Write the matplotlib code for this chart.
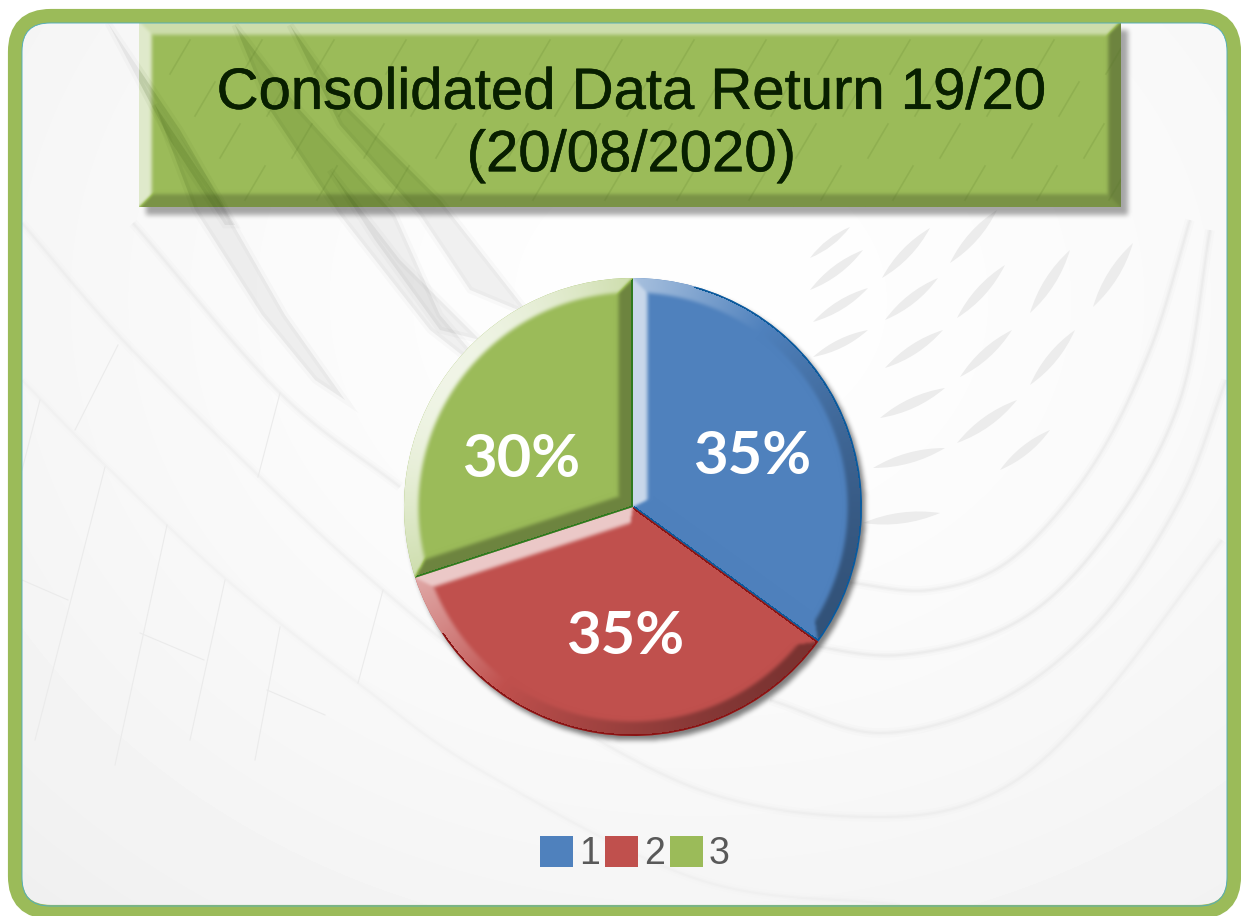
import numpy as np
import matplotlib
matplotlib.use('Agg')
import matplotlib.pyplot as plt
import matplotlib.patheffects as pe
from matplotlib.patches import FancyBboxPatch, PathPatch, Rectangle
from matplotlib.path import Path

W, H = 1241, 916

# chart values
slice_values = [35, 35, 30]
legend_labels = ['1', '2', '3']
slice_colors = ['#4f81bd', '#c0504d', '#9bbb59']
edge_colors = ['#0b5a9c', '#8a1414', '#2f7a1e']
title_text = 'Consolidated Data Return 19/20\n(20/08/2020)'

def py(y):
    return H - y

def blur(a, n):
    k = np.ones(n) / n
    for _ in range(3):
        a = np.apply_along_axis(lambda r: np.convolve(r, k, mode='same'), 0, a)
        a = np.apply_along_axis(lambda r: np.convolve(r, k, mode='same'), 1, a)
    return a

def smooth(pts, n=30):
    # catmull-rom through the way points
    p = np.array(pts, float)
    p = np.vstack([2 * p[0] - p[1], p, 2 * p[-1] - p[-2]])
    out = []
    for i in range(1, len(p) - 2):
        t = np.linspace(0, 1, n)[:, None]
        out.append(0.5 * (2 * p[i] + (p[i + 1] - p[i - 1]) * t
                          + (2 * p[i - 1] - 5 * p[i] + 4 * p[i + 1] - p[i + 2]) * t ** 2
                          + (3 * p[i] - p[i - 1] - 3 * p[i + 1] + p[i + 2]) * t ** 3))
    return np.vstack(out)

def shade(color, edge, dists, normals, w, edge_w=1.7):
    # bevel: every pixel takes the light of its nearest edge, softened after
    rgb = np.array(matplotlib.colors.to_rgb(color))
    ec = np.array(matplotlib.colors.to_rgb(edge))
    d = np.stack(dists)
    idx = d.argmin(axis=0)
    dmin = d.min(axis=0)
    nx = np.choose(idx, [n[0] for n in normals])
    ny = np.choose(idx, [n[1] for n in normals])
    dot = nx * (-0.81) + ny * 0.59
    t = np.clip((w - dmin) / (0.3 * w), 0, 1)
    ramp = t * t * (3 - 2 * t)
    s = blur(dot * ramp, 3)
    img = np.ones(d.shape[1:] + (4,))
    for c in range(3):
        light = rgb[c] + (1 - rgb[c]) * 0.85 * np.clip(s, 0, 1)
        dark = rgb[c] * (1 - 0.36 * np.clip(-s, 0, 1))
        img[..., c] = np.where(s > 0, light, dark)
        img[..., c] = np.where((dmin < edge_w) & (dot < 0.35), ec[c], img[..., c])
    return img

fig = plt.figure(figsize=(W / 100, H / 100), dpi=100, facecolor='white')
ax = fig.add_axes([0, 0, 1, 1])

# background picture
plate = FancyBboxPatch((15, py(912)), 1219, 896, boxstyle='round,pad=0,rounding_size=36',
                       facecolor='none', edgecolor='none', zorder=0)
ax.add_patch(plate)
yy, xx = np.mgrid[0:H, 0:W]
dist = np.hypot((xx - 700) / 1100, (yy - 300) / 900)
bg = 254 - 17 * np.clip(dist, 0, 1) ** 1.6
bg_im = ax.imshow(bg, cmap='gray', vmin=0, vmax=255, extent=(0, W, 0, H), origin='upper',
                  aspect='auto', zorder=0.5)
bg_im.set_clip_path(plate)

streaks = [
    ([(22, 223), (120, 337), (260, 477), (383, 590), (500, 680), (700, 790), (880, 817), (1000, 790), (1100, 700), (1222, 540)], 0.03),
    ([(22, 380), (107, 467), (227, 580), (358, 683), (480, 770), (700, 880), (900, 905)], 0.022),
    ([(133, 223), (280, 393), (400, 487)], 0.04),
    ([(770, 700), (880, 733), (1000, 700), (1100, 620), (1180, 500), (1226, 380)], 0.04),
    ([(780, 640), (900, 655), (1020, 620), (1110, 530), (1180, 400), (1210, 230)], 0.05),
    ([(845, 582), (930, 590), (1010, 560), (1090, 470), (1150, 350), (1190, 220)], 0.05),
]
for pts, a in streaks:
    c = smooth(pts)
    for lw, f in [(7, 0.25), (3.5, 0.4), (1.5, 0.5)]:
        ax.plot(c[:, 0], py(c[:, 1]), color='black', lw=lw, alpha=a * f, zorder=1,
                solid_capstyle='butt')

# tapered bands of the upper left, they also show through the title box
bands = [
    [(155, 105), (225, 210), (285, 315), (345, 400), (315, 380), (262, 315), (195, 210)],
    [(235, 25), (300, 110), (395, 215), (440, 315), (500, 385), (430, 330), (340, 215), (270, 110)],
    [(290, 25), (350, 110), (440, 200), (530, 315), (470, 290), (420, 215), (340, 125)],
    [(330, 170), (400, 260), (480, 340), (440, 330), (375, 240)],
    [(108, 23), (180, 130), (235, 225), (225, 225), (170, 140)],
]
for b in bands:
    b = np.array(b, float)
    ax.fill(b[:, 0], py(b[:, 1]), color='black', alpha=0.018, lw=5, zorder=1)
    ax.fill(b[:, 0], py(b[:, 1]), color='black', alpha=0.03, lw=0, zorder=1)

# faint panel lines, lower left
panel_lines = [((118, 345), (75, 430)), ((280, 393), (258, 477)), ((40, 400), (22, 470)),
               ((105, 467), (35, 740)), ((167, 525), (115, 765)), ((225, 580), (190, 740)),
               ((280, 627), (255, 760)), ((383, 590), (358, 683)), ((22, 580), (68, 600)),
               ((140, 633), (204, 660)), ((267, 690), (325, 715))]
for a, b in panel_lines:
    ax.plot([a[0], b[0]], [py(a[1]), py(b[1])], color='#ebebeb', lw=0.8, zorder=1)

# lens shapes over the upper right
leaf_tips = [(810, 258, 850, 227), (810, 290, 863, 250), (882, 278, 930, 228), (813, 322, 868, 288),
             (885, 320, 938, 278), (950, 263, 997, 210), (813, 357, 868, 330), (885, 368, 943, 330),
             (957, 318, 1005, 265), (880, 418, 945, 388), (960, 377, 1012, 330), (1030, 313, 1070, 250),
             (873, 468, 945, 448), (957, 443, 1017, 400), (1093, 307, 1133, 243), (863, 523, 940, 513),
             (1030, 385, 1075, 330), (1000, 470, 1050, 430)]
for x0, y0, x1, y1 in leaf_tips:
    mx, my = (x0 + x1) / 2, (y0 + y1) / 2
    nx, ny = (y1 - y0) * 0.14, (x0 - x1) * 0.14
    verts = [(x0, py(y0)), (mx + nx, py(my + ny)), (x1, py(y1)),
             (mx - nx, py(my - ny)), (x0, py(y0))]
    codes = [Path.MOVETO, Path.CURVE3, Path.CURVE3, Path.CURVE3, Path.CURVE3]
    ax.add_patch(PathPatch(Path(verts, codes), facecolor='#ececec', edgecolor='none', zorder=1.2))

# title box
bx0, bx1, by0, by1 = 139, 1121, 22, 207
mask = np.zeros((H, W))
mask[by0 + 8:by1 + 8, bx0 + 7:bx1 + 7] = 1
mask = blur(mask[:300, 80:1200], 5)
sh = np.zeros(mask.shape + (4,))
sh[..., 3] = mask * 0.34
ax.imshow(sh, extent=(80, 1200, py(300), py(0)), origin='upper', aspect='auto', zorder=2)

pad = 12
gy, gx = np.mgrid[by0 - pad:by1 + pad, bx0 - pad:bx1 + pad] + 0.5
box_img = shade(slice_colors[2], slice_colors[2],
                [gx - bx0, bx1 - gx, gy - by0, by1 - gy],
                [(-1, 0), (1, 0), (0, 1), (0, -1)], 15, edge_w=0)
box_clip = Rectangle((bx0, py(by1)), bx1 - bx0, by1 - by0, transform=ax.transData)
box_im = ax.imshow(box_img, extent=(bx0 - pad, bx1 + pad, py(by1 + pad), py(by0 - pad)), origin='upper',
                   aspect='auto', zorder=2.1)
box_im.set_clip_path(box_clip)
for b in bands:
    b = np.array(b, float)
    poly, = ax.fill(b[:, 0], py(b[:, 1]), color='#3c5a14', alpha=0.1, lw=0, zorder=2.2)
    poly.set_clip_path(box_clip)
    poly, = ax.fill(b[:, 0], py(b[:, 1]), color='#3c5a14', alpha=0.05, lw=5, zorder=2.2)
    poly.set_clip_path(box_clip)
# the pattern behind shows through the box
for row, y in enumerate(range(40, 210, 42)):
    for x in range(170 + row * 25, 1120, 72):
        ln, = ax.plot([x, x + 20], [py(y + 34), py(y)], color='#4f7020', lw=1.2, alpha=0.15, zorder=2.2)
        ln.set_clip_path(box_clip)

ax.text(631, py(125), title_text, ha='center', va='center', fontsize=41.8, color='#081f00',
        family='Liberation Sans', linespacing=1.2, zorder=3,
        path_effects=[pe.withStroke(linewidth=0.4, foreground='#081f00')])

# pie
cx, cy, r = 633, py(507), 229
mask = np.zeros((H, W))
py_, px_ = np.mgrid[0:H, 0:W]
mask[np.hypot(px_ - (cx + 3), (H - py_) - (cy - 4)) < r] = 1
mask = blur(mask[250:770, 370:900], 5)
sh = np.zeros(mask.shape + (4,))
sh[..., 3] = mask * 0.5
ax.imshow(sh, extent=(370, 900, py(770), py(250)), origin='upper', aspect='auto', zorder=3.5)

wedges, texts, autotexts = ax.pie(slice_values, colors=slice_colors, startangle=90, counterclock=False,
                                  center=(cx, cy), radius=r, autopct=lambda p: f'{p:.0f}%',
                                  pctdistance=0.57, frame=False,
                                  textprops={'family': 'Lato', 'fontweight': 'bold', 'fontsize': 43,
                                             'color': 'white'})

ext = (cx - r - pad, cx + r + pad, cy - r - pad, cy + r + pad)
ty, tx = np.mgrid[ext[3] - 0.5:ext[2] - 0.5:-1, ext[0] + 0.5:ext[1] + 0.5:1]
for wdg, col, ec in zip(wedges, slice_colors, edge_colors):
    wdg.set_zorder(4)
    dx, dy = tx - cx, ty - cy
    rho = np.hypot(dx, dy)
    a1, a2 = np.radians(wdg.theta1), np.radians(wdg.theta2)
    n1 = (np.cos(a1 - np.pi / 2), np.sin(a1 - np.pi / 2))
    n2 = (np.cos(a2 + np.pi / 2), np.sin(a2 + np.pi / 2))
    d1 = -(dx * n1[0] + dy * n1[1])
    d2 = -(dx * n2[0] + dy * n2[1])
    rx, ry = dx / np.maximum(rho, 1), dy / np.maximum(rho, 1)
    img = shade(col, ec, [r - rho, d1, d2],
                [(rx, ry), (np.full_like(rx, n1[0]), np.full_like(rx, n1[1])),
                 (np.full_like(rx, n2[0]), np.full_like(rx, n2[1]))], 17)
    im = ax.imshow(img, extent=ext, origin='upper', aspect='auto', zorder=4.1)
    im.set_clip_path(wdg)

label_px = [(752, 457), (625, 637), (521, 460)]
for t, (lx, ly) in zip(autotexts, label_px):
    t.set_position((lx, py(ly)))
    t.set_ha('center')
    t.set_va('center')
    t.set_zorder(5)

leg = ax.legend(wedges, legend_labels, ncols=3, frameon=False, loc='center',
                bbox_to_anchor=(635, py(854)), bbox_transform=ax.transData,
                prop={'family': 'Liberation Sans', 'size': 27}, labelcolor='#595959',
                handlelength=0.88, handleheight=0.9, handletextpad=0.15, columnspacing=0.15,
                borderpad=0, borderaxespad=0)
leg.set_zorder(5)

# frame
frame = FancyBboxPatch((15, py(912)), 1219, 896, boxstyle='round,pad=0,rounding_size=36',
                       facecolor='none', edgecolor='#9bbb59', lw=10.2, zorder=6)
ax.add_patch(frame)
inner = FancyBboxPatch((22, py(906)), 1205, 883, boxstyle='round,pad=0,rounding_size=28',
                       facecolor='none', edgecolor='#4bacc6', lw=0.6, zorder=6)
ax.add_patch(inner)

ax.set_xlim(0, W)
ax.set_ylim(0, H)
ax.set_axis_off()
fig.savefig('out.png', dpi=100, facecolor='white')
